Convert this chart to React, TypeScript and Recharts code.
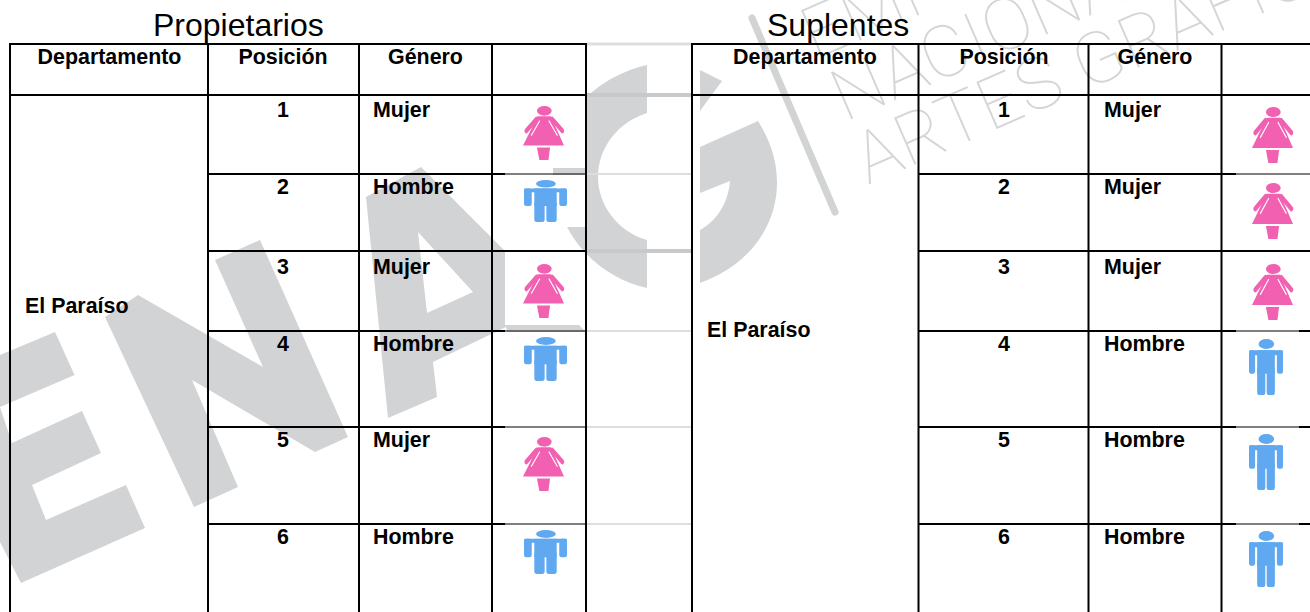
import { ScatterChart, Scatter, XAxis, YAxis } from 'recharts';

// table content
const departamento = 'El Paraíso';
const encabezados = ['Departamento', 'Posición', 'Género'];
const posiciones = [1, 2, 3, 4, 5, 6];
const generoPropietarios = ['Mujer', 'Hombre', 'Mujer', 'Hombre', 'Mujer', 'Hombre'];
const generoSuplentes = ['Mujer', 'Mujer', 'Mujer', 'Hombre', 'Hombre', 'Hombre'];

// layout, in the px units of the two axes
const W = 1310;
const H = 612;
const FONT = '"Liberation Sans", Arial, sans-serif';
const GRAY = '#d1d3d4';
const rowLines = [174, 251, 331, 427, 524];
const rowText = [117, 194, 274, 351, 447, 544];
const iconTopLeft = [106, 180, 264, 337, 437, 530];
const iconTopRight = [107, 183, 264, 339, 434, 531];
const boxTops = [96, 175, 252, 332, 428, 525];
const boxBottoms = [168, 227, 325, 426, 523, 612];

const leftCols = [10, 208, 359, 492, 586];
const rightCols = [692, 918.5, 1088.5, 1221.5];

const gapLines = [
  { y: 44, color: '#dedede', w: 3 },
  { y: 95, color: '#c8c9ca', w: 4 },
  { y: 174, color: '#dedede', w: 2 },
  { y: 251, color: '#c8c9ca', w: 4 },
  { y: 331, color: '#dedede', w: 2 },
  { y: 427, color: '#dedede', w: 2 },
  { y: 524, color: '#dedede', w: 2 },
];

const Watermark = ({ cx, cy }: any) => (
  <g transform={`translate(${cx},${cy})`}>
    <path
      fill={GRAY}
      d="M0,355 L55,332 L74.5,375 L0,407 L12,443 L82,411 L101,453 L32,485 L46,520 L126,485 L145,528 L21,583 L0,542 Z"
    />
    <path
      fill={GRAY}
      d="M105,317 L138,295 L263,367 L215,260 L260,240 L348,437 L315,452 L192,380 L238,487 L194,507 Z"
    />
    <path
      fill={GRAY}
      fillRule="evenodd"
      d="M366,197 L421,167 L585,331 L585,340 L510,340 L506,327 L433,362 L437,397 L388,418 Z M418,232 L473,292 L427,313 Z"
    />
    <path
      fill={GRAY}
      d="M647,65 C590,78 553,125 553,170 C553,225 590,275 647,288 L647,240 C618,232 598,205 598,177 C598,148 618,122 647,113 Z"
    />
    <path fill={GRAY} d="M700,70 L722,81 L700,111 Z" />
    <path
      fill={GRAY}
      d="M758,121 L700,147 L700,193 L730,181 C728,205 715,222 700,230 L700,283 C750,265 777,225 777,183 C777,160 770,140 758,121 Z"
    />
    <line x1={752} y1={18} x2={835} y2={212} stroke={GRAY} strokeWidth={7} strokeLinecap="round" />
    <g fontFamily="Roboto, sans-serif" fontWeight={100} fontSize={72} fill="#d3d5d6" letterSpacing={1}>
      <text x={815} y={60} transform="rotate(-23.5 815 60)">EMPRESA</text>
      <text x={845} y={122} transform="rotate(-23.5 845 122)">NACIONAL</text>
      <text x={868} y={185} transform="rotate(-23.5 868 185)">ARTES GRAFICAS</text>
    </g>
  </g>
);

const WhiteBox = ({ cx, cy, payload }: any) => (
  <rect x={cx} y={cy} width={payload.w} height={payload.h} fill="#fff" />
);

const Label = ({ cx, cy, payload }: any) => (
  <text
    x={cx}
    y={cy}
    textAnchor={payload.anchor}
    fontFamily={FONT}
    fontWeight={payload.bold ? 700 : 400}
    fontSize={payload.size}
    fill="#000"
  >
    {payload.text}
  </text>
);

const PINK = '#f160b1';
const BLUE = '#60a8ef';

const Mujer = () => (
  <g>
    <ellipse cx={52} cy={9} rx={18} ry={9} fill={PINK} />
    <path d="M36,19 L68,19 L100,73 L0,73 Z" fill={PINK} />
    <path d="M33,24 L8,46 M71,24 L96,46" stroke={PINK} strokeWidth={9} strokeLinecap="round" />
    <path d="M41,27 L20,55 M63,27 L84,55" stroke="#fff" strokeWidth={2.6} />
    <path d="M34,77 L66,77 L62,100 L40,100 Z" fill={PINK} />
  </g>
);

const Hombre = () => (
  <g fill={BLUE}>
    <ellipse cx={51} cy={9} rx={23} ry={9} />
    <rect x={0} y={20} width={100} height={9} rx={3} />
    <rect x={0} y={20} width={18} height={42} rx={5} />
    <rect x={82} y={20} width={18} height={42} rx={5} />
    <rect x={24} y={20} width={52} height={42} />
    <rect x={24} y={50} width={24} height={50} rx={6} />
    <rect x={52} y={50} width={24} height={50} rx={6} />
  </g>
);

const Persona = ({ cx, cy, payload }: any) => (
  <g transform={`translate(${cx},${cy}) scale(${payload.w / 100},${payload.h / 100})`}>
    {payload.genero === 'Mujer' ? <Mujer /> : <Hombre />}
  </g>
);

const boxes = boxTops.map((y, i) => ({ x: 505, y, w: 81, h: boxBottoms[i] - y }));

const iconsLeft = generoPropietarios.map((genero, i) =>
  genero === 'Mujer'
    ? { genero, x: 523, y: iconTopLeft[i], w: 41, h: 54 }
    : { genero, x: 524, y: iconTopLeft[i], w: 43, h: 43 + (i === 1 ? -1 : 1) }
);
const iconsRight = generoSuplentes.map((genero, i) =>
  genero === 'Mujer'
    ? { genero, x: 1252, y: iconTopRight[i], w: 41, h: 56 }
    : { genero, x: 1249, y: iconTopRight[i], w: 34, h: 56 }
);

const BODY = 21.4;

const labels = [
  { text: 'Propietarios', x: 153, y: 36, anchor: 'start', size: 32, bold: false },
  { text: 'Suplentes', x: 767, y: 36, anchor: 'start', size: 32, bold: false },
  { text: encabezados[0], x: 109.5, y: 64, anchor: 'middle', size: BODY, bold: true },
  { text: encabezados[1], x: 283, y: 64, anchor: 'middle', size: BODY, bold: true },
  { text: encabezados[2], x: 425.5, y: 64, anchor: 'middle', size: BODY, bold: true },
  { text: encabezados[0], x: 805, y: 64, anchor: 'middle', size: BODY, bold: true },
  { text: encabezados[1], x: 1004, y: 64, anchor: 'middle', size: BODY, bold: true },
  { text: encabezados[2], x: 1155, y: 64, anchor: 'middle', size: BODY, bold: true },
  { text: departamento, x: 25, y: 313, anchor: 'start', size: BODY, bold: true },
  { text: departamento, x: 707, y: 337, anchor: 'start', size: BODY, bold: true },
  ...posiciones.flatMap((p, i) => [
    { text: String(p), x: 283, y: rowText[i], anchor: 'middle', size: BODY, bold: true },
    { text: generoPropietarios[i], x: 373, y: rowText[i], anchor: 'start', size: BODY, bold: true },
    { text: String(p), x: 1004, y: rowText[i], anchor: 'middle', size: BODY, bold: true },
    { text: generoSuplentes[i], x: 1104, y: rowText[i], anchor: 'start', size: BODY, bold: true },
  ]),
];

// table rules are two-point series so they stack above the watermark series
const NoDot = () => <g />;
const rule = (x1: number, y1: number, x2: number, y2: number, stroke = '#000', strokeWidth = 2) => (
  <Scatter
    key={`${x1}-${y1}-${x2}-${y2}`}
    data={[
      { x: x1, y: y1 },
      { x: x2, y: y2 },
    ]}
    line={{ stroke, strokeWidth }}
    shape={NoDot}
    isAnimationActive={false}
  />
);

export default function App() {
  return (
    <div style={{ position: 'absolute', left: 0, top: 0, width: W, height: H, background: '#fff' }}>
      <ScatterChart width={W} height={H} margin={{ top: 0, right: 0, bottom: 0, left: 0 }}>
        <XAxis type="number" dataKey="x" domain={[0, W]} hide />
        <YAxis type="number" dataKey="y" domain={[0, H]} reversed hide />

        <Scatter data={[{ x: 0, y: 0 }]} shape={Watermark} isAnimationActive={false} />
        <Scatter data={boxes} shape={WhiteBox} isAnimationActive={false} />

        {gapLines.map((l) => rule(587, l.y, 691, l.y, l.color, l.w))}
        {[...leftCols, ...rightCols].map((x) => rule(x, 43, x, H))}
        {rule(9, 44, 587, 44)}
        {rule(691, 44, W, 44)}
        {rule(9, 95, 587, 95)}
        {rule(691, 95, W, 95)}
        {rowLines.map((y) => rule(208, y, 505, y))}
        {rowLines.map((y) => rule(505, y, 587, y, '#000', y === 251 ? 2 : 1.2))}
        {rowLines.map((y) => rule(918, y, 1236, y))}
        {rowLines.map((y) =>
          y === 251 ? rule(1236, y, W, y) : rule(1236, y, y === 174 ? W : 1299, y, '#000', 1.2)
        )}
        {rowLines.filter((y) => y > 251).map((y) => rule(1299, y, W, y))}

        <Scatter data={[...iconsLeft, ...iconsRight]} shape={Persona} isAnimationActive={false} />
        <Scatter data={labels} shape={Label} isAnimationActive={false} />
      </ScatterChart>
    </div>
  );
}
